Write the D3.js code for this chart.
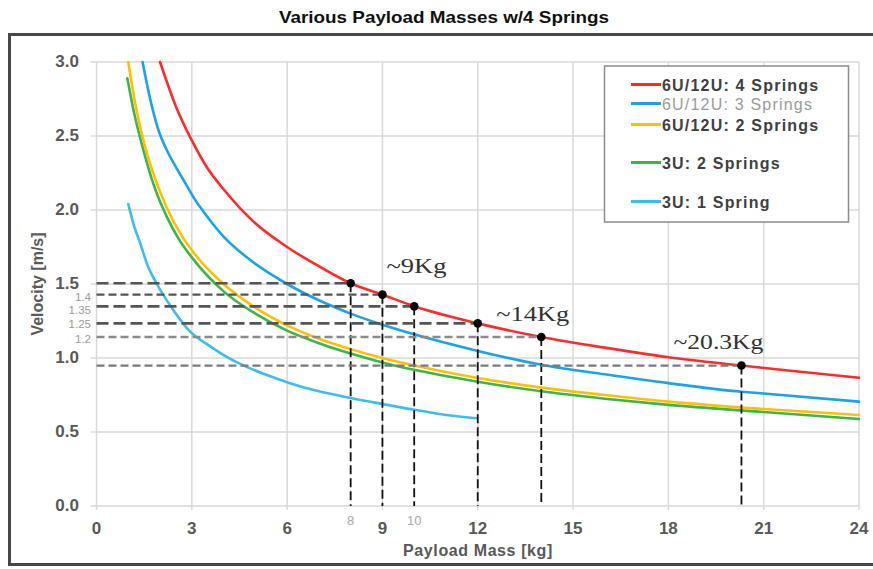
<!DOCTYPE html>
<html>
<head>
<meta charset="utf-8">
<script src="https://cdn.jsdelivr.net/npm/d3@7"></script>
<style>
  html, body { margin: 0; padding: 0; background: #fff; overflow: hidden; }
  svg { display: block; }
</style>
</head>
<body>
<svg id="chart" width="873" height="569"></svg>
<script>
// ---------------- DATA ----------------
const title = "Various Payload Masses w/4 Springs";
const xLabel = "Payload Mass [kg]";
const yLabel = "Velocity [m/s]";
const xTicks = [0, 3, 6, 9, 12, 15, 18, 21, 24];
const yTicks = [0.0, 0.5, 1.0, 1.5, 2.0, 2.5, 3.0];
const xExtraTicks = [8, 10];

const seriesNames = ["6U/12U: 4 Springs", "6U/12U: 3 Springs", "6U/12U: 2 Springs", "3U: 2 Springs", "3U: 1 Spring"];
const seriesColors = ["#ff2b2b", "#1aa3ea", "#ffc000", "#3cb54a", "#3dbdef"];

const redX = [2.0, 2.5, 3, 3.5, 4, 5, 6, 7, 8, 9, 10, 12, 14, 16, 18, 20.3, 22, 24];
const redY = [3.0, 2.7, 2.47, 2.28, 2.14, 1.91, 1.75, 1.62, 1.505, 1.428, 1.35, 1.234, 1.142, 1.07, 1.005, 0.949, 0.91, 0.867];

const blueX = [1.45, 1.7, 1.95, 2.2, 2.5, 2.8, 3.1, 3.4, 4, 4.73, 6, 7, 8, 9, 10, 12, 14, 16, 18, 20.3, 21, 24];
const blueY = [3.0, 2.74, 2.54, 2.41, 2.29, 2.18, 2.07, 1.98, 1.82, 1.68, 1.5, 1.39, 1.3, 1.225, 1.16, 1.048, 0.955, 0.89, 0.83, 0.772, 0.76, 0.705];

const yellowX = [1.0, 1.2, 1.5, 1.8, 2.2, 2.7, 3.1, 4, 5, 6, 7, 8, 9, 10, 12, 14, 16, 18, 21, 24];
const yellowY = [3.0, 2.74, 2.45, 2.24, 2.02, 1.82, 1.7, 1.5, 1.34, 1.22, 1.13, 1.06, 1.0, 0.95, 0.865, 0.80, 0.75, 0.705, 0.655, 0.615];

const greenX = [0.97, 1.2, 1.42, 1.8, 2.2, 2.6, 3, 4, 5, 6, 7, 8, 9, 10, 12, 14, 16, 18, 21, 24];
const greenY = [2.89, 2.64, 2.45, 2.17, 1.96, 1.8, 1.68, 1.45, 1.3, 1.185, 1.1, 1.03, 0.97, 0.92, 0.84, 0.775, 0.725, 0.683, 0.635, 0.588];

const lightX = [1.0, 1.2, 1.37, 1.6, 1.9, 2.4, 2.94, 3.5, 4, 4.62, 5.3, 6.09, 7, 7.88, 9.24, 10, 11.13, 11.97];
const lightY = [2.04, 1.88, 1.78, 1.63, 1.5, 1.33, 1.18, 1.09, 1.02, 0.95, 0.89, 0.83, 0.775, 0.735, 0.68, 0.65, 0.612, 0.593];

// reference points (dots) on the 4-spring curve
const refX = [8, 9, 10, 12, 14, 20.3];
const refY = [1.505, 1.428, 1.349, 1.234, 1.142, 0.949];
const refYLabels = ["", "1.4", "1.35", "1.25", "1.2", ""];
const annotations = ["~9Kg", "~14Kg", "~20.3Kg"];
const annotationAt = [9, 14, 20.3];

// ---------------- LAYOUT ----------------
const svg = d3.select("#chart");
const x = d3.scaleLinear().domain([0, 24]).range([96.5, 859]);
const y = d3.scaleLinear().domain([0, 3]).range([506, 62]);

// outer frame
svg.append("rect").attr("x", 9.5).attr("y", 34.5).attr("width", 880).attr("height", 530)
  .attr("fill", "#fff").attr("stroke", "#474747").attr("stroke-width", 3);

// title
svg.append("text").attr("x", 444).attr("y", 23).attr("text-anchor", "middle")
  .attr("font-family", "'Liberation Sans Narrow', 'Liberation Sans', Arial, sans-serif")
  .attr("font-weight", "bold").attr("font-size", 17).attr("fill", "#111")
  .attr("textLength", 330).attr("lengthAdjust", "spacingAndGlyphs")
  .text(title);

// grid
const grid = svg.append("g");
grid.selectAll("line.v").data(xTicks).join("line")
  .attr("x1", d => x(d)).attr("x2", d => x(d))
  .attr("y1", y(3)).attr("y2", y(0) + 4)
  .attr("stroke", "#d9d9d9").attr("stroke-width", 1.5);
grid.selectAll("line.h").data(yTicks).join("line")
  .attr("x1", x(0) - 6).attr("x2", x(24))
  .attr("y1", d => y(d)).attr("y2", d => y(d))
  .attr("stroke", "#d9d9d9").attr("stroke-width", 1.5);

// tick labels
const tickFont = "'Liberation Sans', Arial, sans-serif";
svg.append("g").selectAll("text").data(yTicks).join("text")
  .attr("x", 79).attr("y", d => y(d) - 1).attr("dy", "0.36em")
  .attr("text-anchor", "end").attr("font-family", tickFont)
  .attr("font-weight", "bold").attr("font-size", 17).attr("fill", "#595959")
  .text(d => d3.format(".1f")(d));
svg.append("g").selectAll("text").data(xTicks).join("text")
  .attr("x", d => x(d)).attr("y", 534)
  .attr("text-anchor", "middle").attr("font-family", tickFont)
  .attr("font-weight", "bold").attr("font-size", 17).attr("fill", "#595959")
  .text(d => d);
svg.append("g").selectAll("text").data(xExtraTicks).join("text")
  .attr("x", d => x(d)).attr("y", 525)
  .attr("text-anchor", "middle").attr("font-family", "'Liberation Sans Narrow', Arial, sans-serif")
  .attr("font-size", 13).attr("fill", "#a8a8a8")
  .text(d => d);

// axis titles
svg.append("text").attr("x", 478).attr("y", 556).attr("text-anchor", "middle")
  .attr("font-family", tickFont).attr("font-weight", "bold").attr("font-size", 16)
  .attr("letter-spacing", 0.6).attr("fill", "#595959").text(xLabel);
svg.append("text").attr("transform", "translate(43,284) rotate(-90)").attr("text-anchor", "middle")
  .attr("font-family", tickFont).attr("font-weight", "bold").attr("font-size", 16)
  .attr("fill", "#595959").text(yLabel);

// curves
const seriesX = [redX, blueX, yellowX, greenX, lightX];
const seriesY = [redY, blueY, yellowY, greenY, lightY];
const line = d3.line().x(d => x(d[0])).y(d => y(d[1])).curve(d3.curveMonotoneX);
const curves = svg.append("g");
const drawOrder = [4, 3, 2, 1, 0];
drawOrder.forEach(i => {
  const pts = seriesX[i].map((v, k) => [v, seriesY[i][k]]);
  curves.append("path").attr("d", line(pts)).attr("fill", "none")
    .attr("stroke", seriesColors[i]).attr("stroke-width", 2.6)
    .attr("stroke-linejoin", "round").attr("stroke-linecap", "round");
});

// horizontal dashed reference lines
const hStyles = [
  {c: "#555", w: 2.6, d: "12,5"},
  {c: "#555", w: 2.2, d: "8,4"},
  {c: "#555", w: 2.6, d: "12,5"},
  {c: "#555", w: 2.6, d: "12,5"},
  {c: "#8a8a8a", w: 2.6, d: "8,4"},
  {c: "#7a7a7a", w: 2.2, d: "8,4"}
];
const refs = svg.append("g");
refX.forEach((rx, i) => {
  refs.append("line").attr("x1", x(0)).attr("x2", x(rx))
    .attr("y1", y(refY[i])).attr("y2", y(refY[i]))
    .attr("stroke", hStyles[i].c).attr("stroke-width", hStyles[i].w)
    .attr("stroke-dasharray", hStyles[i].d);
  refs.append("line").attr("x1", x(rx)).attr("x2", x(rx))
    .attr("y1", y(refY[i])).attr("y2", y(0))
    .attr("stroke", "#111").attr("stroke-width", 1.8)
    .attr("stroke-dasharray", "9,4");
});
refs.selectAll("circle").data(refX).join("circle")
  .attr("cx", d => x(d)).attr("cy", (d, i) => y(refY[i])).attr("r", 4.3)
  .attr("fill", "#000");

// small reference labels on the y axis
const labelDy = [0, 2, 3.5, 0, 2, 0];
refs.selectAll("text").data(refYLabels).join("text")
  .attr("x", 91).attr("y", (d, i) => y(refY[i]) + labelDy[i]).attr("dy", "0.36em")
  .attr("text-anchor", "end").attr("font-family", "'Liberation Sans Narrow', Arial, sans-serif")
  .attr("font-size", 11.5).attr("fill", "#9a9a9a")
  .text(d => d);

// annotations
const annOffsets = [{dx: 4, dy: -22, w: 60}, {dx: -45, dy: -16, w: 73}, {dx: -68, dy: -17, w: 90}];
annotations.forEach((t, i) => {
  const k = refX.indexOf(annotationAt[i]);
  svg.append("text")
    .attr("x", x(annotationAt[i]) + annOffsets[i].dx)
    .attr("y", y(refY[k]) + annOffsets[i].dy)
    .attr("font-family", "'Liberation Serif', 'Times New Roman', serif")
    .attr("font-size", 21).attr("fill", "#333")
    .attr("textLength", annOffsets[i].w).attr("lengthAdjust", "spacingAndGlyphs")
    .text(t);
});

// legend
const lg = svg.append("g");
lg.append("rect").attr("x", 604.5).attr("y", 66).attr("width", 244).attr("height", 156)
  .attr("fill", "#fff").attr("stroke", "#8c8c8c").attr("stroke-width", 1.5);
const legendY = [84.5, 103.5, 124.5, 162.5, 201.5];
seriesNames.forEach((n, i) => {
  lg.append("line").attr("x1", 631).attr("x2", 661)
    .attr("y1", legendY[i]).attr("y2", legendY[i])
    .attr("stroke", seriesColors[i]).attr("stroke-width", 3);
  lg.append("text").attr("x", 662).attr("y", legendY[i] + 6)
    .attr("font-family", tickFont).attr("font-size", 16)
    .attr("font-weight", i === 1 ? "normal" : "bold")
    .attr("letter-spacing", 1.2)
    .attr("fill", i === 1 ? "#9b9b9b" : "#404040")
    .text(n);
});
</script>
</body>
</html>
